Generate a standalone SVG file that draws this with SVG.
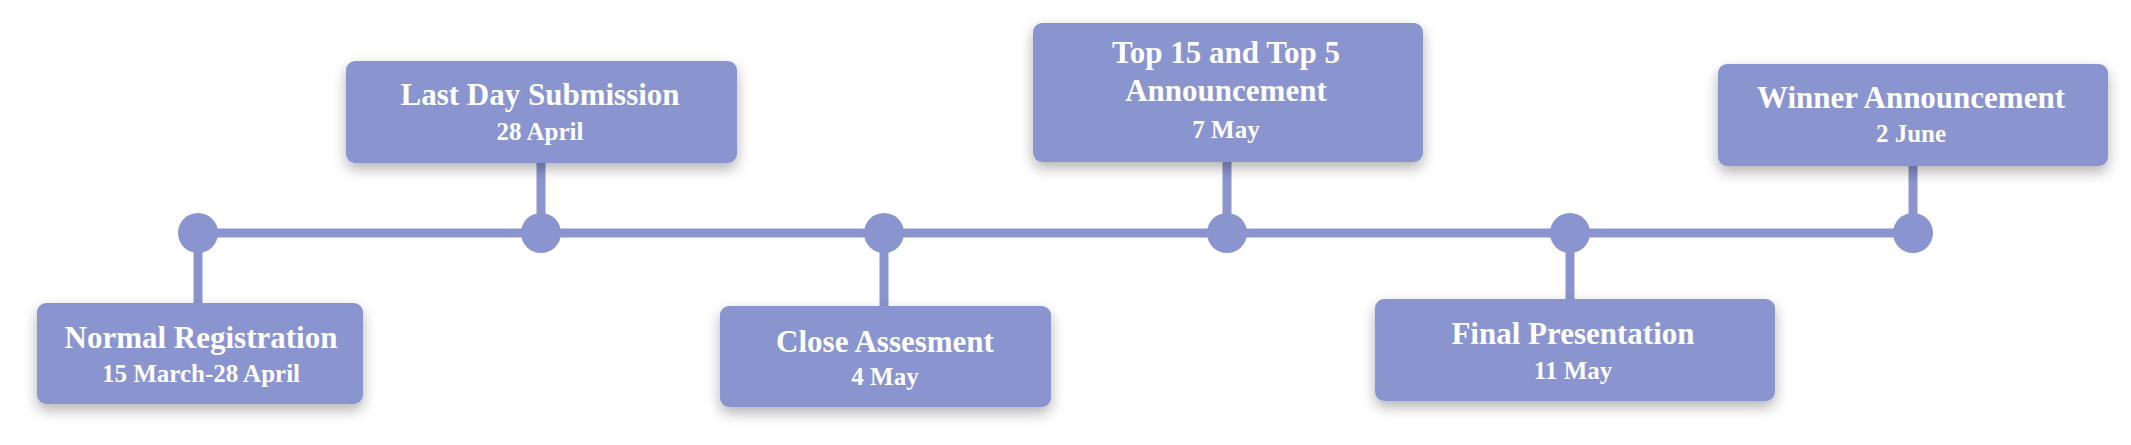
<svg xmlns="http://www.w3.org/2000/svg" width="2131" height="445" viewBox="0 0 2131 445">
<defs>
<filter id="sh" x="-10%" y="-20%" width="120%" height="150%">
<feDropShadow dx="0" dy="6" stdDeviation="7" flood-color="#000" flood-opacity="0.3"/>
</filter>
<style>
.box{fill:#8A94CF;filter:url(#sh)}
.ln{stroke:#8A94CF;stroke-width:9;fill:none}
.dot{fill:#8A94CF}
.t1{font-family:"Liberation Serif",serif;font-weight:bold;font-size:31px;fill:#fff;text-anchor:middle}
.t2{font-family:"Liberation Serif",serif;font-weight:bold;font-size:25px;fill:#fff;text-anchor:middle}
</style>
</defs>
<rect width="2131" height="445" fill="#fff"/>
<g id="connectors">
<line class="ln" x1="198" y1="233" x2="1913" y2="233"/>
<line class="ln" x1="198" y1="233" x2="198" y2="305"/>
<line class="ln" x1="541" y1="160" x2="541" y2="233"/>
<line class="ln" x1="884" y1="233" x2="884" y2="308"/>
<line class="ln" x1="1227" y1="160" x2="1227" y2="233"/>
<line class="ln" x1="1570" y1="233" x2="1570" y2="301"/>
<line class="ln" x1="1913" y1="166" x2="1913" y2="233"/>
<circle class="dot" cx="198" cy="233" r="20"/>
<circle class="dot" cx="541" cy="233" r="20"/>
<circle class="dot" cx="884" cy="233" r="20"/>
<circle class="dot" cx="1227" cy="233" r="20"/>
<circle class="dot" cx="1570" cy="233" r="20"/>
<circle class="dot" cx="1913" cy="233" r="20"/>
</g>
<g id="n1">
<rect class="box" x="37" y="303" width="326" height="101" rx="9"/>
<text class="t1" x="201" y="348">Normal Registration</text>
<text class="t2" x="201" y="382">15 March-28 April</text>
</g>
<g id="n2">
<rect class="box" x="346" y="61" width="391" height="102" rx="9"/>
<text class="t1" x="540" y="105">Last Day Submission</text>
<text class="t2" x="540" y="140">28 April</text>
</g>
<g id="n3">
<rect class="box" x="720" y="306" width="331" height="101" rx="9"/>
<text class="t1" x="885" y="352">Close Assesment</text>
<text class="t2" x="885" y="385">4 May</text>
</g>
<g id="n4">
<rect class="box" x="1033" y="23" width="390" height="139" rx="9"/>
<text class="t1" x="1226" y="63">Top 15 and Top 5</text>
<text class="t1" x="1226" y="101">Announcement</text>
<text class="t2" x="1226" y="138">7 May</text>
</g>
<g id="n5">
<rect class="box" x="1375" y="299" width="400" height="102" rx="9"/>
<text class="t1" x="1573" y="344">Final Presentation</text>
<text class="t2" x="1573" y="379">11 May</text>
</g>
<g id="n6">
<rect class="box" x="1718" y="64" width="390" height="102" rx="9"/>
<text class="t1" x="1911" y="108">Winner Announcement</text>
<text class="t2" x="1911" y="142">2 June</text>
</g>
</svg>
